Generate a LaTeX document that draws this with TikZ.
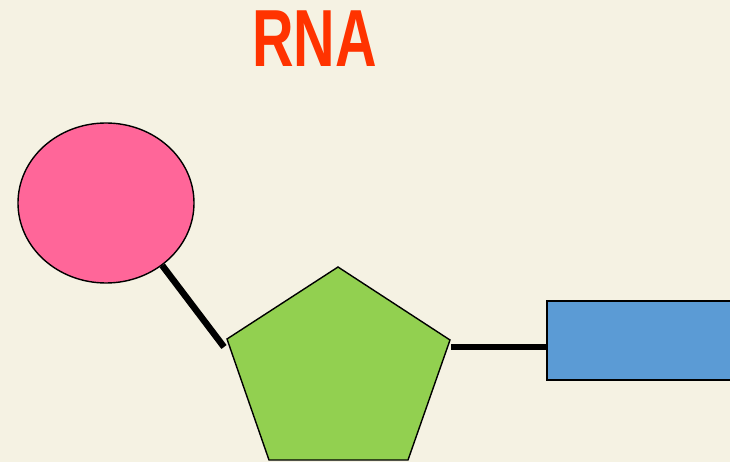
\documentclass[tikz,border=0pt]{standalone}
\usepackage{fontspec}
\setmainfont{Liberation Sans}
\usetikzlibrary{shapes.geometric}
\definecolor{bg}{HTML}{F5F2E3}
\definecolor{pinkc}{HTML}{FF6699}
\definecolor{greenc}{HTML}{92D050}
\definecolor{bluec}{HTML}{5B9BD5}
\definecolor{titlec}{HTML}{FF3300}
\tikzset{
  shapeline/.style={draw=black, line width=1.4pt},
  bond/.style={draw=black, line width=6.5pt},
}
\begin{document}
\begin{tikzpicture}[x=1pt,y=-1pt]
\useasboundingbox (0,0) rectangle (730,462);
\fill[bg] (0,0) rectangle (730,462);
\begin{scope}
\clip (0,0) rectangle (730,462);
\node[titlec, font=\bfseries\fontsize{81}{81}\selectfont, inner sep=0pt, xscale=0.71] (title) at (314.5,39) {RNA};
\node[ellipse, shapeline, fill=pinkc, minimum width=176pt, minimum height=160pt, inner sep=0pt] (e) at (106,203) {};
\coordinate (pt) at (338,267);
\coordinate (pr) at (450,340);
\coordinate (pbr) at (408,460);
\coordinate (pbl) at (269,460);
\coordinate (pl) at (227,339);
\coordinate (pj) at (224,347);
\coordinate (pk) at (451,347);
\node[rectangle, draw=black, line width=2pt, fill=bluec, minimum width=230pt, minimum height=79pt, inner sep=0pt, anchor=north west] (r) at (546,300) {};
\draw[bond] (e.-48) -- (pj);
\draw[bond] (pk) -- (pk -| r.west);
\filldraw[shapeline, fill=greenc, line join=miter] (pt) -- (pr) -- (pbr) -- (pbl) -- (pl) -- cycle;
\end{scope}
\end{tikzpicture}
\end{document}
